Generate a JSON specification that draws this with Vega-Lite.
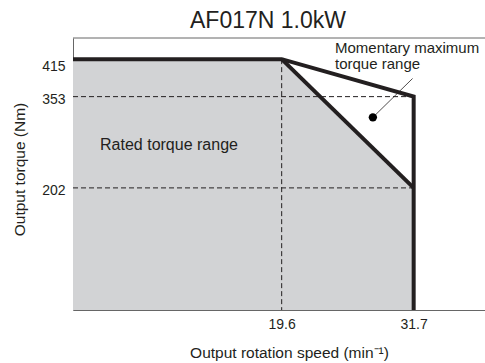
{
  "$schema": "https://vega.github.io/schema/vega-lite/v6.json",
  "width": 412,
  "height": 272,
  "autosize": {"type": "none"},
  "padding": {"left": 73, "top": 38, "right": 0, "bottom": 53},
  "background": "white",
  "config": {
    "view": {"stroke": null},
    "font": "Liberation Sans",
    "text": {"font": "Liberation Sans"}
  },
  "title": {
    "text": "AF017N 1.0kW",
    "fontSize": 23,
    "fontWeight": "normal",
    "font": "Liberation Sans",
    "color": "#231f20",
    "anchor": "middle",
    "dx": -11,
    "offset": 5
  },
  "datasets": {
    "rated": [
      {"speed": 0.47, "torque": 415},
      {"speed": 19.6, "torque": 415},
      {"speed": 31.7, "torque": 202}
    ],
    "outline": [
      {"line": "max", "ord": 1, "speed": 0.47, "torque": 415},
      {"line": "max", "ord": 2, "speed": 19.6, "torque": 415},
      {"line": "max", "ord": 3, "speed": 31.7, "torque": 353},
      {"line": "max", "ord": 4, "speed": 31.7, "torque": 0},
      {"line": "rated", "ord": 1, "speed": 19.6, "torque": 415},
      {"line": "rated", "ord": 2, "speed": 31.7, "torque": 202}
    ],
    "dashes": [
      {"x1": 0.47, "x2": 31.7, "y1": 353, "y2": 353},
      {"x1": 0.47, "x2": 31.7, "y1": 202, "y2": 202},
      {"x1": 19.6, "x2": 19.6, "y1": 415, "y2": 0}
    ],
    "leader": [
      {"x1": 31.6, "y1": 383, "x2": 27.96, "y2": 318.7}
    ],
    "labels": [
      {"speed": 2.95, "torque": 265.4, "label": "Rated torque range", "size": "big"},
      {"speed": 24.49, "torque": 426, "label": "Momentary maximum\ntorque range", "size": "small"}
    ],
    "border": [{"torque": 450}]
  },
  "layer": [
    {
      "data": {"name": "rated"},
      "mark": {"type": "area", "color": "#d2d3d5", "opacity": 1},
      "encoding": {
        "x": {
          "field": "speed", "type": "quantitative",
          "scale": {"domain": [0.47, 38.24], "nice": false, "zero": false},
          "axis": {
            "values": [19.6, 31.7],
            "format": ".1f",
            "grid": false,
            "ticks": false,
            "labelPadding": 7,
            "labelFontSize": 14,
            "labelColor": "#231f20",
            "labelFont": "Liberation Sans",
            "domainColor": "#666666",
            "title": "Output rotation speed (min⁻¹)",
            "titleFontSize": 15.5,
            "titleFontWeight": "normal",
            "titleColor": "#231f20",
            "titleFont": "Liberation Sans",
            "titleX": 216,
            "titleAlign": "center",
            "titlePadding": 14
          }
        },
        "y": {
          "field": "torque", "type": "quantitative",
          "scale": {"domain": [0, 450], "nice": false},
          "axis": {
            "values": [415, 353, 202],
            "grid": false,
            "ticks": false,
            "labelPadding": 8,
            "labelFontSize": 14,
            "labelColor": "#231f20",
            "labelFont": "Liberation Sans",
            "labelBaseline": "middle",
            "labelOffset": {"condition": {"test": "datum.value == 415", "value": 7}, "value": 2.5},
            "domainColor": "#666666",
            "title": "Output torque (Nm)",
            "titleFontSize": 15.5,
            "titleFontWeight": "normal",
            "titleColor": "#231f20",
            "titleFont": "Liberation Sans",
            "titleY": 131,
            "titleAlign": "center",
            "titlePadding": 14
          }
        },
        "y2": {"datum": 0}
      }
    },
    {
      "data": {"name": "border"},
      "mark": {"type": "rule", "color": "#666666", "strokeWidth": 1},
      "encoding": {"y": {"field": "torque", "type": "quantitative"}}
    },
    {
      "data": {"name": "dashes"},
      "mark": {"type": "rule", "color": "#231f20", "strokeWidth": 1, "strokeDash": [5, 3]},
      "encoding": {
        "x": {"field": "x1", "type": "quantitative"},
        "x2": {"field": "x2"},
        "y": {"field": "y1", "type": "quantitative"},
        "y2": {"field": "y2"}
      }
    },
    {
      "data": {"name": "outline"},
      "mark": {"type": "line", "color": "#231f20", "strokeWidth": 4, "strokeJoin": "miter", "strokeCap": "butt"},
      "encoding": {
        "x": {"field": "speed", "type": "quantitative"},
        "y": {"field": "torque", "type": "quantitative"},
        "detail": {"field": "line"},
        "order": {"field": "ord"}
      }
    },
    {
      "data": {"name": "leader"},
      "mark": {"type": "rule", "color": "#231f20", "strokeWidth": 0.8},
      "encoding": {
        "x": {"field": "x1", "type": "quantitative"},
        "x2": {"field": "x2"},
        "y": {"field": "y1", "type": "quantitative"},
        "y2": {"field": "y2"}
      }
    },
    {
      "data": {"name": "leader"},
      "mark": {"type": "point", "filled": true, "color": "#000000", "size": 70, "opacity": 1},
      "encoding": {
        "x": {"field": "x2", "type": "quantitative"},
        "y": {"field": "y2", "type": "quantitative"}
      }
    },
    {
      "data": {"name": "labels"},
      "mark": {"type": "text", "align": "left", "baseline": "alphabetic", "color": "#231f20", "font": "Liberation Sans", "lineBreak": "\n", "lineHeight": 16},
      "encoding": {
        "x": {"field": "speed", "type": "quantitative"},
        "y": {"field": "torque", "type": "quantitative"},
        "text": {"field": "label"},
        "size": {"field": "size", "type": "nominal", "scale": {"domain": ["big", "small"], "range": [16, 15]}, "legend": null}
      }
    }
  ]
}
